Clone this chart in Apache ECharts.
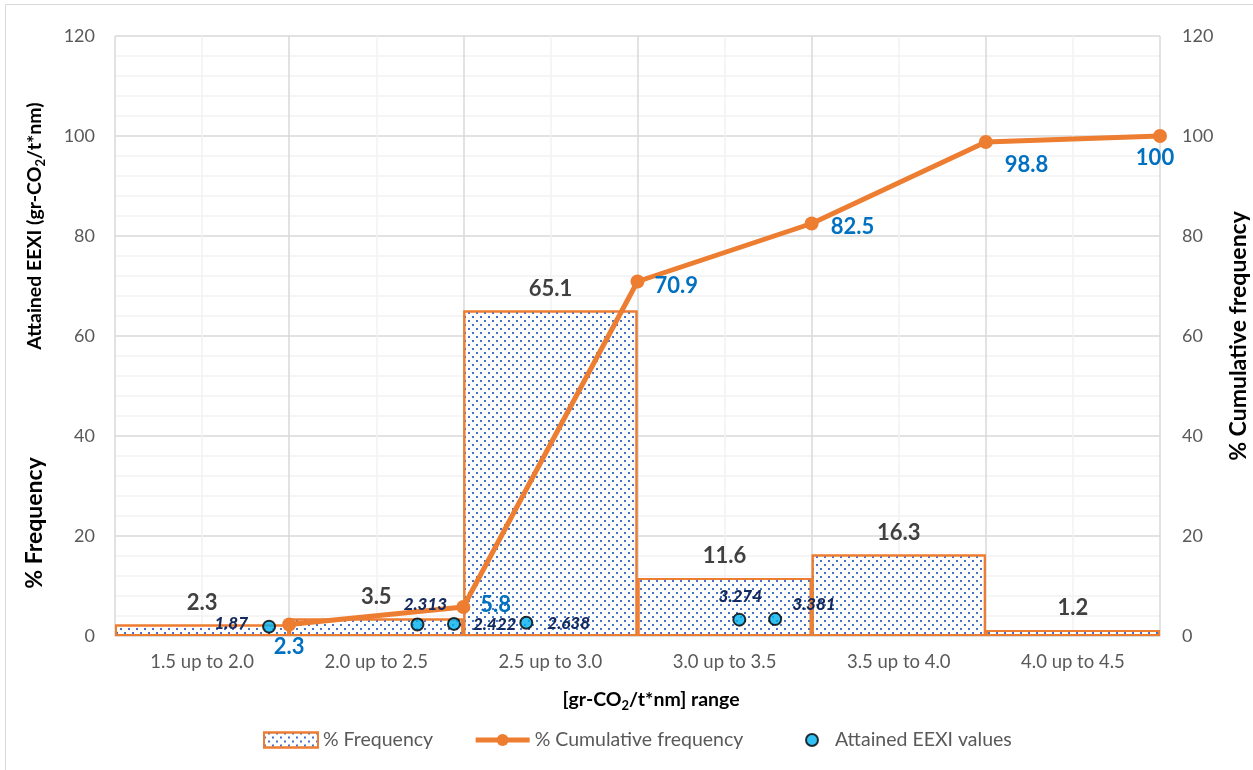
<!DOCTYPE html>
<html>
<head>
<meta charset="utf-8">
<script src="https://cdn.jsdelivr.net/npm/echarts@6/dist/echarts.min.js"></script>
<style>
  html, body { margin: 0; padding: 0; background: #ffffff; }
  #chart { width: 1253px; height: 770px; }
</style>
</head>
<body>
<div id="chart"></div>
<script>
// EEXI distribution: frequency per range, cumulative frequency and attained values
const categories = ['1.5 up to 2.0', '2.0 up to 2.5', '2.5 up to 3.0', '3.0 up to 3.5', '3.5 up to 4.0', '4.0 up to 4.5'];
const binUpper = [2.0, 2.5, 3.0, 3.5, 4.0, 4.5];
const frequency = [2.3, 3.5, 65.1, 11.6, 16.3, 1.2];
const cumulative = [2.3, 5.8, 70.9, 82.5, 98.8, 100];
const eexiValues = [1.87, 2.313, 2.422, 2.638, 3.274, 3.381];

// label placement for each cumulative point
const cumLabelStyle = [
  { position: 'bottom', distance: 4 },
  { position: 'right', distance: 10, offset: [0, -2] },
  { position: 'right', distance: 10, offset: [0, 4] },
  { position: 'right', distance: 12, offset: [0, 3] },
  { position: 'right', distance: 12, offset: [0, 23] },
  { position: 'bottom', distance: 4, offset: [-5, 0] }
];
// label placement for each attained value
const eexiLabelStyle = [
  { position: 'left', distance: 14, offset: [0, -3] },
  { position: 'top', distance: 8, offset: [8, 4] },
  { position: 'right', distance: 12, offset: [0, 1] },
  { position: 'right', distance: 14, offset: [0, 1] },
  { position: 'top', distance: 10, offset: [1, 2] },
  { position: 'right', distance: 10, offset: [0, -15] }
];

const FONT = 'Lato, "Open Sans", sans-serif';
const ORANGE = '#ED7D31';

const chart = echarts.init(document.getElementById('chart'), null, { renderer: 'canvas' });

const titleRich = {
  b: { fontFamily: FONT, fontSize: 19.5, fontWeight: 'bold', color: '#000', lineHeight: 24 },
  s: { fontFamily: FONT, fontSize: 13, fontWeight: 'bold', color: '#000', lineHeight: 13, verticalAlign: 'bottom' }
};

const legendText = { color: '#595959', fontSize: 19.5, fontFamily: FONT };

const option = {
  backgroundColor: '#ffffff',
  animation: false,
  textStyle: { fontFamily: FONT },
  grid: { left: 115, right: 93, top: 36, bottom: 134, containLabel: false },
  legend: [
    {
      top: 725,
      left: 258,
      itemWidth: 54,
      itemHeight: 15,
      itemGap: 40,
      textStyle: legendText,
      data: [
        { name: '% Frequency', icon: 'rect' },
        { name: '% Cumulative frequency', lineStyle: { width: 5 } }
      ]
    },
    {
      top: 725,
      left: 800,
      itemWidth: 36,
      itemHeight: 12,
      textStyle: legendText,
      data: [
        { name: 'Attained EEXI values', icon: 'circle', itemStyle: { borderWidth: 2 } }
      ]
    }
  ],
  xAxis: [
    {
      type: 'category',
      data: categories,
      boundaryGap: true,
      axisLine: { show: true, lineStyle: { color: '#D9D9D9', width: 1.5 } },
      axisTick: { show: false },
      axisLabel: { color: '#595959', fontSize: 18.5, margin: 17, fontFamily: FONT },
      splitLine: { show: false }
    },
    {
      type: 'value',
      min: 1.5,
      max: 4.5,
      interval: 0.5,
      position: 'bottom',
      axisLine: { show: false },
      axisTick: { show: false },
      axisLabel: { show: false },
      splitLine: { show: true, lineStyle: { color: '#D9D9D9', width: 1.5 } },
      minorTick: { show: false, splitNumber: 2 },
      minorSplitLine: { show: true, lineStyle: { color: '#F2F2F2', width: 1.5 } }
    },
    {
      type: 'value',
      min: 1.41,
      max: 4.53,
      show: false
    }
  ],
  yAxis: [
    {
      type: 'value',
      min: 0,
      max: 120,
      interval: 20,
      position: 'left',
      axisLine: { show: false },
      axisTick: { show: false },
      axisLabel: { color: '#595959', fontSize: 18, margin: 20, fontFamily: FONT },
      splitLine: { show: true, lineStyle: { color: '#D9D9D9', width: 1.5 } },
      minorTick: { show: false, splitNumber: 5 },
      minorSplitLine: { show: true, lineStyle: { color: '#F2F2F2', width: 1.5 } }
    },
    {
      type: 'value',
      min: 0,
      max: 120,
      interval: 20,
      position: 'right',
      axisLine: { show: false },
      axisTick: { show: false },
      axisLabel: { color: '#595959', fontSize: 18, margin: 22, fontFamily: FONT },
      splitLine: { show: false }
    }
  ],
  series: [
    {
      name: '% Frequency',
      type: 'bar',
      xAxisIndex: 0,
      yAxisIndex: 0,
      data: frequency,
      barWidth: '100%',
      barGap: '0%',
      z: 2,
      itemStyle: {
        color: '#ffffff',
        borderColor: ORANGE,
        borderWidth: 2,
        decal: {
          symbol: 'rect',
          symbolSize: 1,
          color: '#4472C4',
          backgroundColor: null,
          dashArrayX: [[2, 6], [0, 4, 2, 2]],
          dashArrayY: [2, 2]
        }
      },
      label: {
        show: true,
        position: 'top',
        distance: 11,
        color: '#404040',
        fontSize: 22,
        fontWeight: 'bold',
        fontFamily: FONT
      }
    },
    {
      name: '% Cumulative frequency',
      type: 'line',
      xAxisIndex: 1,
      yAxisIndex: 1,
      z: 4,
      data: binUpper.map((x, i) => ({ value: [x, cumulative[i]], label: cumLabelStyle[i] })),
      symbol: 'circle',
      symbolSize: 14,
      lineStyle: { color: ORANGE, width: 5 },
      itemStyle: { color: ORANGE },
      label: {
        show: true,
        formatter: p => p.value[1],
        color: '#0070C0',
        fontSize: 22,
        fontWeight: 'bold',
        fontFamily: FONT
      }
    },
    {
      name: 'Attained EEXI values',
      type: 'scatter',
      xAxisIndex: 2,
      yAxisIndex: 0,
      z: 5,
      data: eexiValues.map((v, i) => ({ value: [v, v], label: eexiLabelStyle[i] })),
      symbol: 'circle',
      symbolSize: 12,
      itemStyle: { color: '#00B0F0', borderColor: '#000000', borderWidth: 2 },
      label: {
        show: true,
        formatter: p => p.value[1],
        color: '#142a5c',
        opacity: 1,
        textBorderWidth: 0,
        fontSize: 17,
        fontWeight: 900,
        fontStyle: 'italic',
        fontFamily: FONT
      }
    }
  ],
  graphic: [
    {
      type: 'rect',
      silent: true,
      shape: { x: 5.5, y: 4.5, width: 1260, height: 780 },
      style: { fill: null, stroke: '#D9D9D9', lineWidth: 1 }
    },
    {
      type: 'text',
      x: 35, y: 523,
      rotation: Math.PI / 2,
      style: {
        text: '% Frequency',
        font: 'bold 23px ' + FONT,
        fill: '#000',
        align: 'center',
        verticalAlign: 'middle'
      }
    },
    {
      type: 'text',
      x: 35, y: 226,
      rotation: Math.PI / 2,
      style: {
        text: '{b|Attained EEXI (gr-CO}{s|2}{b|/t*nm)}',
        rich: titleRich,
        align: 'center',
        verticalAlign: 'middle'
      }
    },
    {
      type: 'text',
      x: 1239, y: 336,
      rotation: Math.PI / 2,
      style: {
        text: '% Cumulative frequency',
        font: 'bold 23px ' + FONT,
        fill: '#000',
        align: 'center',
        verticalAlign: 'middle'
      }
    },
    {
      type: 'text',
      x: 651, y: 700,
      style: {
        text: '{b|[gr-CO}{s|2}{b|/t*nm] range}',
        rich: titleRich,
        align: 'center',
        verticalAlign: 'middle'
      }
    }
  ]
};

chart.setOption(option);
</script>
</body>
</html>
